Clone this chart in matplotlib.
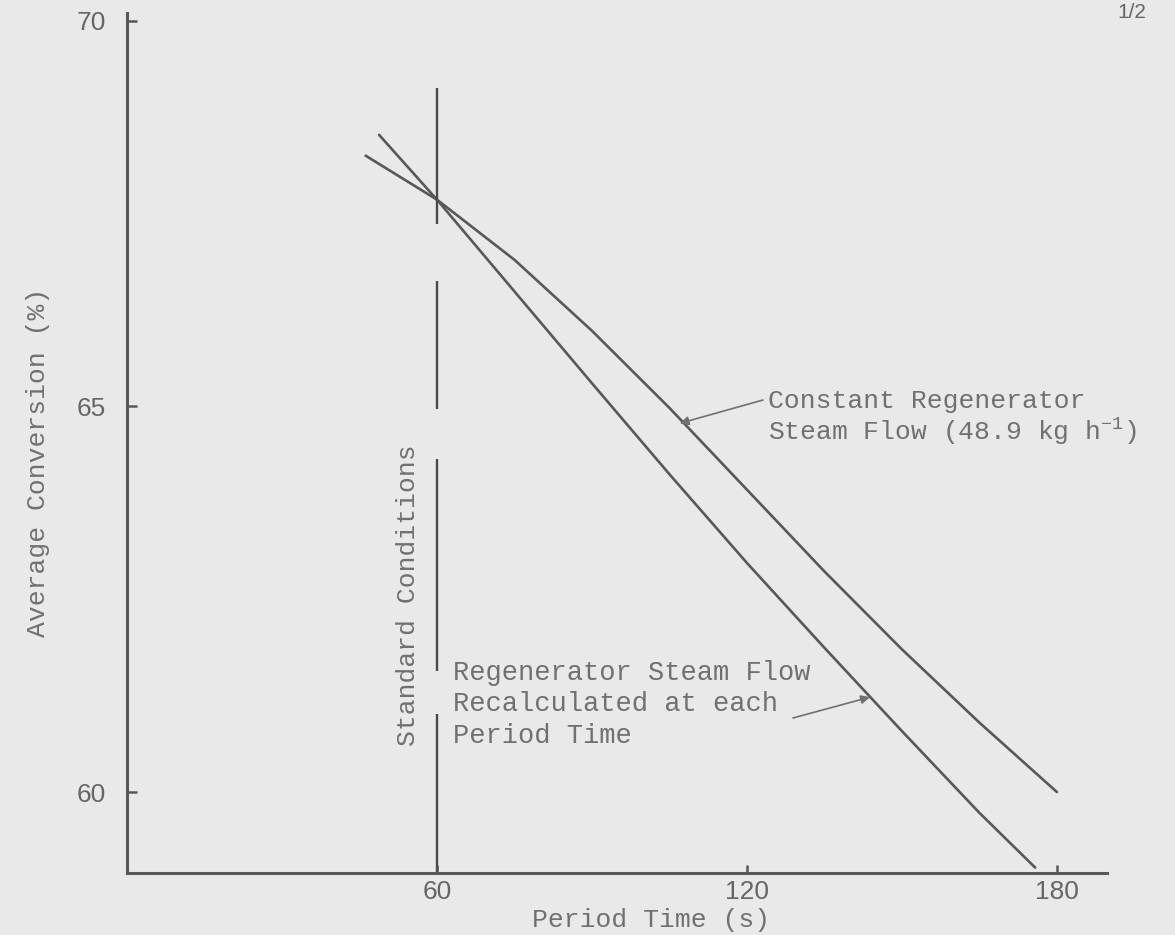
import matplotlib
matplotlib.use("Agg")
import matplotlib.pyplot as plt

# Period time (s) and average conversion (%) for the two regenerator cases
period_constant = [46.2, 60, 75, 90, 105, 120, 135, 150, 165, 180]
conversion_constant = [68.25, 67.68, 66.90, 65.98, 64.98, 63.92, 62.86, 61.85, 60.90, 60.00]

period_recalc = [48.8, 60, 75, 90, 105, 120, 135, 150, 165, 175.8]
conversion_recalc = [68.52, 67.68, 66.49, 65.30, 64.12, 62.97, 61.87, 60.79, 59.73, 59.02]

# Standard-conditions marker at 60 s, drawn as a broken vertical line
standard_period = 60
standard_segments = [(67.37, 69.13), (64.97, 66.63), (61.57, 64.32), (58.95, 61.01)]

x_ticks = [60, 120, 180]
y_ticks = [60, 65, 70]

plt.rcParams["mathtext.fontset"] = "custom"
plt.rcParams["mathtext.rm"] = "Liberation Mono"
plt.rcParams["mathtext.it"] = "Liberation Mono"
plt.rcParams["mathtext.bf"] = "Liberation Mono"

W, H = 1175, 935
paper = "#e9e9e9"
ink = "#585858"
type_ink = "#707070"
mono = "Liberation Mono"

fig = plt.figure(figsize=(W / 100, H / 100), dpi=100, facecolor=paper)
left_px, right_px, bottom_px, top_px = 127, 1107, 873, 13
ax = fig.add_axes([left_px / W, (H - bottom_px) / H,
                   (right_px - left_px) / W, (bottom_px - top_px) / H])
ax.set_facecolor("none")
ax.set_xlim(0, 189.7)
ax.set_ylim(58.95, 70.1)

for side in ("top", "right"):
    ax.spines[side].set_visible(False)
for side in ("left", "bottom"):
    ax.spines[side].set_color(ink)
    ax.spines[side].set_linewidth(2.2)

ax.set_xticks(x_ticks)
ax.set_yticks(y_ticks)
ax.tick_params(axis="both", direction="in", colors=ink, width=1.8,
               labelcolor="#666666", labelsize=19)
ax.tick_params(axis="y", length=7, pad=15)
ax.tick_params(axis="x", length=6, pad=5)
for lab in ax.get_xticklabels() + ax.get_yticklabels():
    lab.set_fontfamily("Liberation Sans")

# Curves
ax.plot(period_constant, conversion_constant, color=ink, lw=1.9,
        solid_capstyle="round")
ax.plot(period_recalc, conversion_recalc, color=ink, lw=1.9,
        solid_capstyle="round")

# Standard conditions line
for lo, hi in standard_segments:
    ax.plot([standard_period, standard_period], [lo, hi], color="#4a4a4a",
            lw=1.7, solid_capstyle="butt")


def fig_xy(px, py):
    return px / W, 1 - py / H


# Axis titles
fig.text(*fig_xy(651, 920), "Period Time (s)", family=mono, fontsize=19,
         color=type_ink, ha="center", va="center")
fig.text(*fig_xy(38, 462), "Average Conversion (%)", family=mono, fontsize=19,
         color=type_ink, ha="center", va="center", rotation=90)
fig.text(*fig_xy(408, 595), "Standard Conditions", family=mono, fontsize=19,
         color=type_ink, ha="center", va="center", rotation=90)

# Curve annotations
fig.text(*fig_xy(768, 408), "Constant Regenerator", family=mono, fontsize=19,
         color=type_ink, ha="left", va="baseline")
fig.text(*fig_xy(768, 440), "Steam Flow (48.9 kg h$^{-1}$)", family=mono,
         fontsize=19, color=type_ink, ha="left", va="baseline")
ax.annotate("", xy=(107.0, 64.78), xycoords="data",
            xytext=(763, H - 400), textcoords="figure pixels",
            arrowprops=dict(arrowstyle="-|>", color="#707070", lw=1.2,
                            mutation_scale=13, shrinkA=0, shrinkB=0))

for text, py in (("Regenerator Steam Flow", 680),
                 ("Recalculated at each", 711),
                 ("Period Time", 743)):
    fig.text(*fig_xy(453, py), text, family=mono, fontsize=19.5,
             color=type_ink, ha="left", va="baseline")
ax.annotate("", xy=(143.8, 61.23), xycoords="data",
            xytext=(793, H - 718), textcoords="figure pixels",
            arrowprops=dict(arrowstyle="-|>", color="#707070", lw=1.2,
                            mutation_scale=13, shrinkA=0, shrinkB=0))

# Page number in the top corner
fig.text(*fig_xy(1132, 12), "1/2", family="Liberation Sans", fontsize=15,
         color="#666666", ha="center", va="center")

fig.savefig("out.png", dpi=100, facecolor=paper)
